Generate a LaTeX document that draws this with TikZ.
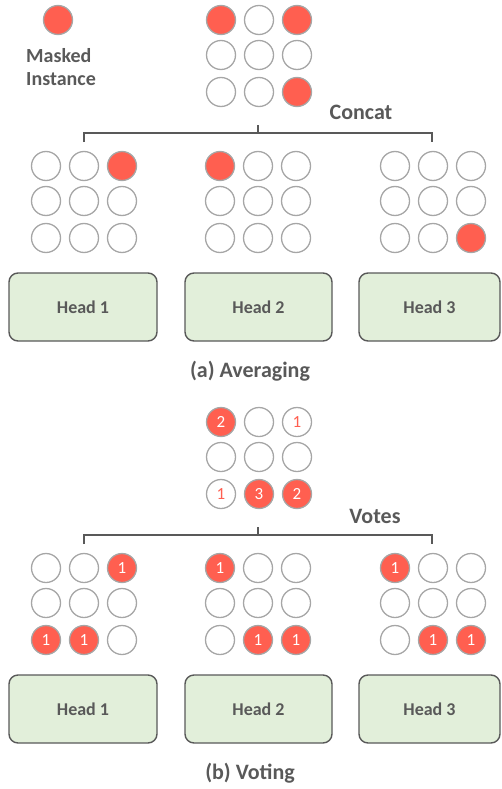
\documentclass[tikz,border=0pt]{standalone}
\usepackage{fontspec}
\setmainfont{Carlito}
\definecolor{txtgray}{HTML}{595959}
\definecolor{cellred}{HTML}{FF5F50}
\definecolor{cellgray}{HTML}{A6A6A6}
\definecolor{headfill}{HTML}{E2EFDA}
\tikzset{
  cellbase/.style={circle,minimum size=29pt,inner sep=0pt,draw=cellgray,line width=1.3pt,
    font=\fontsize{17}{20}\selectfont},
  emp/.style={cellbase,fill=white},
  msk/.style={cellbase,fill=cellred,text=white},
  wnum/.style={cellbase,fill=white,text=cellred},
  headbox/.style={draw=txtgray,fill=headfill,line width=1.4pt,rounded corners=9pt,
    minimum height=68pt,text=txtgray,font=\bfseries\fontsize{18}{21}\selectfont},
  lbl/.style={text=txtgray,inner sep=0pt,font=\bfseries\fontsize{20}{24}\selectfont},
  biglbl/.style={text=txtgray,inner sep=0pt,font=\bfseries\fontsize{22}{26}\selectfont},
  brk/.style={draw=txtgray,line width=1.4pt}
}
\newcommand\cellgrid[4]{%
  \foreach [count=\i from 0] \s/\t in {#4} {%
    \pgfmathtruncatemacro\row{div(\i,3)}%
    \pgfmathtruncatemacro\col{mod(\i,3)}%
    \pgfmathsetmacro\yy{#3+35*\row+2*(\row==2)}%
    \node[\s] (#1-\row-\col) at ({#2+38*\col},\yy) {\t};
  }}
\begin{document}
\begin{tikzpicture}[x=1pt,y=-1pt]
\useasboundingbox (0,0) rectangle (501,789);

% ---------- (a) Averaging ----------
\node[msk] (legend) at (58,20) {};
\node[lbl,anchor=base west] (legendA) at (26,63) {Masked};
\node[lbl,anchor=base west] (legendB) at (26,86) {Instance};

\cellgrid{at}{221}{20}{msk/{},emp/{},msk/{},emp/{},emp/{},emp/{},emp/{},emp/{},msk/{}}

\coordinate (abl) at (84,142);
\coordinate (abla) at (84,133);
\coordinate (abr) at (432,142);
\coordinate (abra) at (432,133);
\coordinate (abm) at (258,133);
\coordinate (abmt) at (258,125);
\draw[brk] (abl) -- (abla) -- (abra) -- (abr);
\draw[brk] (abm) -- (abmt);
\node[biglbl,anchor=base] (concat) at (361,120) {Concat};

\cellgrid{a1}{46}{166}{emp/{},emp/{},msk/{},emp/{},emp/{},emp/{},emp/{},emp/{},emp/{}}
\cellgrid{a2}{220}{166}{msk/{},emp/{},emp/{},emp/{},emp/{},emp/{},emp/{},emp/{},emp/{}}
\cellgrid{a3}{395}{166}{emp/{},emp/{},emp/{},emp/{},emp/{},emp/{},emp/{},emp/{},msk/{}}

\node[headbox,minimum width=148pt] (ah1) at (83,307) {Head 1};
\node[headbox,minimum width=147pt] (ah2) at (258.5,307) {Head 2};
\node[headbox,minimum width=141pt] (ah3) at (429.5,307) {Head 3};

\node[biglbl] (atitle) at (250,371) {(a) Averaging};

% ---------- (b) Voting ----------
\cellgrid{bt}{221}{422}{msk/2,emp/{},wnum/1,emp/{},emp/{},emp/{},wnum/1,msk/3,msk/2}

\coordinate (bbl) at (84,544);
\coordinate (bbla) at (84,535);
\coordinate (bbr) at (432,544);
\coordinate (bbra) at (432,535);
\coordinate (bbm) at (258,535);
\coordinate (bbmt) at (258,527);
\draw[brk] (bbl) -- (bbla) -- (bbra) -- (bbr);
\draw[brk] (bbm) -- (bbmt);
\node[biglbl,anchor=base] (votes) at (375,523) {Votes};

\cellgrid{b1}{46}{568}{emp/{},emp/{},msk/1,emp/{},emp/{},emp/{},msk/1,msk/1,emp/{}}
\cellgrid{b2}{220}{568}{msk/1,emp/{},emp/{},emp/{},emp/{},emp/{},emp/{},msk/1,msk/1}
\cellgrid{b3}{395}{568}{msk/1,emp/{},emp/{},emp/{},emp/{},emp/{},emp/{},msk/1,msk/1}

\node[headbox,minimum width=148pt] (bh1) at (83,709) {Head 1};
\node[headbox,minimum width=147pt] (bh2) at (258.5,709) {Head 2};
\node[headbox,minimum width=141pt] (bh3) at (429.5,709) {Head 3};

\node[biglbl] (btitle) at (250,773) {(b) Voting};
\end{tikzpicture}
\end{document}
